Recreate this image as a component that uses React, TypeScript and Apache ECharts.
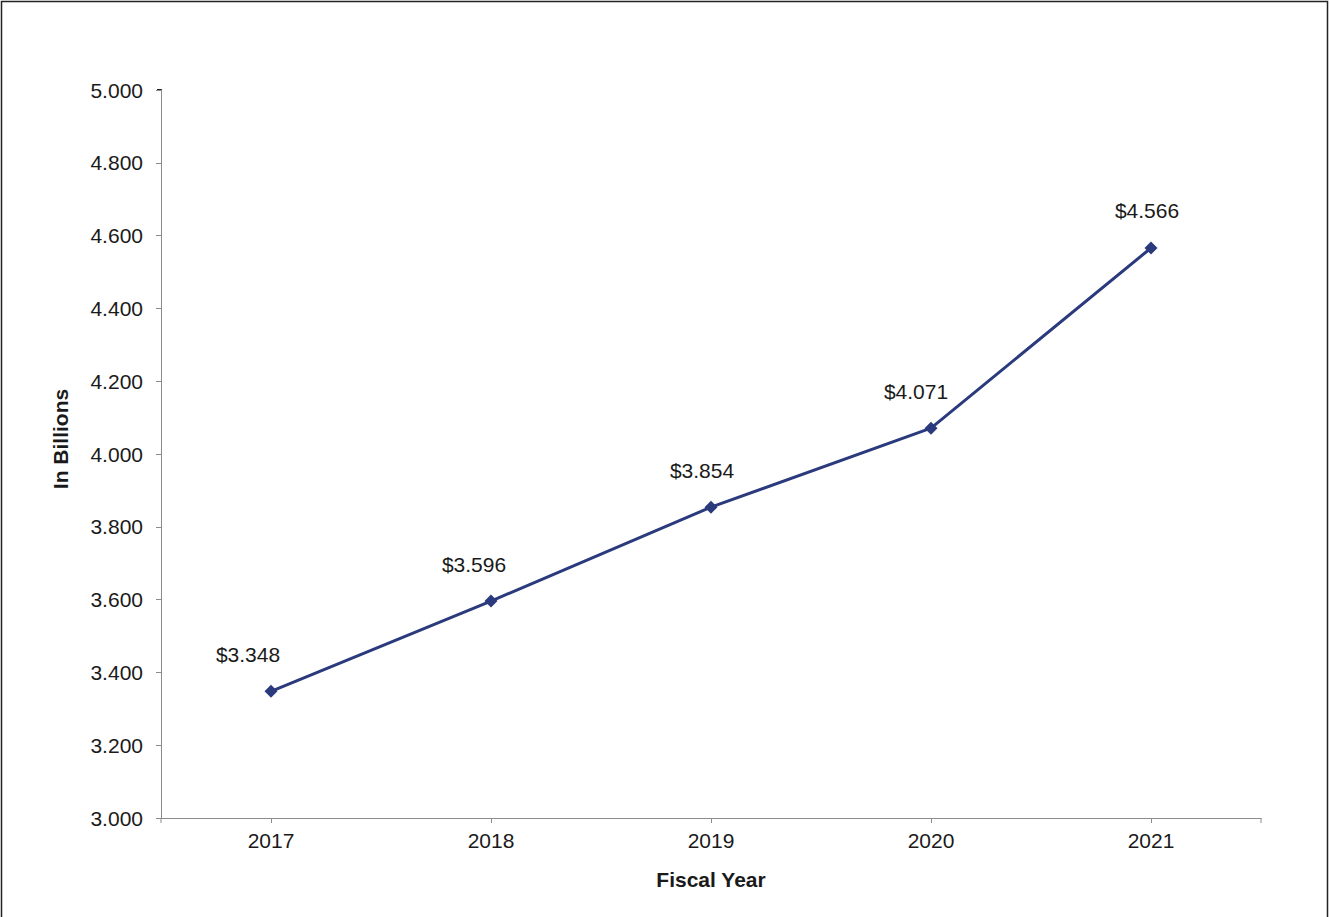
import React, { useEffect, useRef } from "react";
import * as echarts from "echarts";

const years = ["2017", "2018", "2019", "2020", "2021"];
const values = [3.348, 3.596, 3.854, 4.071, 4.566];
const labelNudgeX = [-23, -17, -9, -15, -4];

const yMin = 3;
const yMax = 5;
const yStep = 0.2;

const FONT = "Arial, 'Liberation Sans', sans-serif";
const TEXT = "#1a1a1a";
const AXIS_GREY = "#8c8c8c";
const LINE = "#2a3a7c";

export default function App() {
  const ref = useRef<HTMLDivElement>(null);
  useEffect(() => {
    document.body.style.margin = "0";
    if (!ref.current) return;
    const chart = echarts.init(ref.current, undefined, { renderer: "svg" });
    const gridLeft = 161;
    const gridRight = 69;
    const gridTop = 90;
    const gridBottom = 99;
    const W = 1330;
    const H = 917;
    chart.setOption({
      animation: false,
      backgroundColor: "#ffffff",
      grid: { left: gridLeft, right: gridRight, top: gridTop, bottom: gridBottom, containLabel: false },
      xAxis: {
        type: "category",
        data: years,
        boundaryGap: true,
        name: "Fiscal Year",
        nameLocation: "middle",
        nameGap: 51,
        nameTextStyle: { fontFamily: FONT, fontSize: 21, fontWeight: "bold", color: TEXT },
        axisLine: { lineStyle: { color: AXIS_GREY, width: 1 } },
        axisTick: { show: true, alignWithLabel: true, length: 5, lineStyle: { color: AXIS_GREY } },
        axisLabel: { fontFamily: FONT, fontSize: 21, color: TEXT, margin: 12 },
        splitLine: { show: false },
      },
      yAxis: {
        type: "value",
        min: yMin,
        max: yMax,
        interval: yStep,
        name: "In Billions",
        nameLocation: "middle",
        nameRotate: 90,
        nameGap: 90,
        nameTextStyle: { fontFamily: FONT, fontSize: 21, fontWeight: "bold", color: TEXT, padding: [0, 0, 0, 30] },
        axisLine: { show: true, lineStyle: { color: AXIS_GREY, width: 1 } },
        axisTick: { show: true, inside: false, length: 5, lineStyle: { color: AXIS_GREY } },
        axisLabel: {
          fontFamily: FONT,
          fontSize: 21,
          color: TEXT,
          margin: 18,
          formatter: (v: number) => v.toFixed(3),
        },
        splitLine: { show: false },
      },
      graphic: [
        {
          type: "rect",
          shape: { x: 1.5, y: 1.5, width: W - 4, height: H + 10 },
          style: { fill: "none", stroke: "#222222", lineWidth: 1.5 },
          silent: true,
        },
        {
          type: "line",
          shape: { x1: gridLeft, y1: H - gridBottom, x2: gridLeft, y2: H - gridBottom + 5 },
          style: { stroke: AXIS_GREY, lineWidth: 1 },
        },
        {
          type: "line",
          shape: { x1: W - gridRight, y1: H - gridBottom, x2: W - gridRight, y2: H - gridBottom + 5 },
          style: { stroke: AXIS_GREY, lineWidth: 1 },
        },
        {
          type: "rect",
          shape: { x: gridLeft - 4, y: gridTop - 1, width: 5, height: 2 },
          style: { fill: "#222222" },
          silent: true,
        },
      ],
      series: [
        {
          type: "line",
          data: values.map((v, i) => ({
            value: v,
            label: { offset: [labelNudgeX[i], -15] },
          })),
          symbol: "diamond",
          symbolSize: 13,
          lineStyle: { color: LINE, width: 3 },
          itemStyle: { color: LINE },
          label: {
            show: true,
            position: "top",
            fontFamily: FONT,
            fontSize: 21,
            color: TEXT,
            formatter: (p: any) => "$" + Number(p.value).toFixed(3),
          },
        },
      ],
    });
    return () => chart.dispose();
  }, []);
  return <div ref={ref} style={{ width: 1330, height: 917 }} />;
}
